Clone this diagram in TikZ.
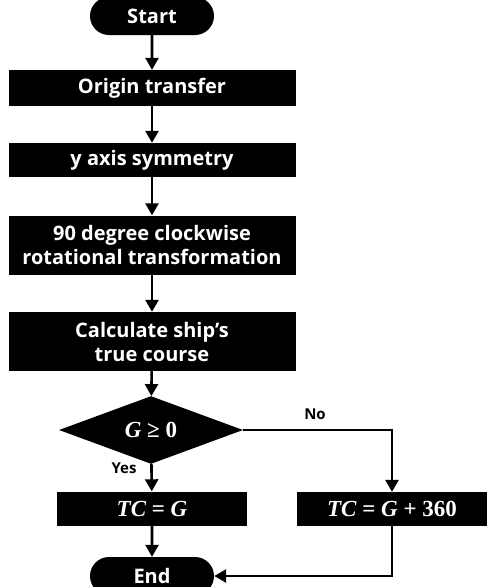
\documentclass[tikz,border=0pt]{standalone}
\usepackage{fontspec}
\setmainfont{Open Sans}
\newfontfamily\formulafont{Liberation Serif}
\newcommand{\var}[1]{{\itshape #1}}
\usetikzlibrary{shapes.geometric,shapes.misc,arrows.meta}
\begin{document}
\begin{tikzpicture}[x=1pt,y=-1pt]
    \tikzset{
        stepbox/.style={fill=black, text=white, font=\bfseries\fontsize{20}{24}\selectfont, align=center, inner sep=0pt, minimum width=287pt},
        terminal/.style={rounded rectangle, fill=black, text=white, font=\bfseries\fontsize{20}{24}\selectfont, inner sep=0pt, minimum width=124pt, minimum height=38pt},
        decision/.style={diamond, fill=black, text=white, font=\formulafont\bfseries\fontsize{23}{26}\selectfont, inner sep=0pt, minimum width=184pt, minimum height=44pt},
        resultbox/.style={fill=black, text=white, font=\formulafont\bfseries\fontsize{23}{26}\selectfont, inner sep=0pt, minimum width=190pt, minimum height=34pt},
        answer/.style={font=\bfseries\fontsize{15}{18}\selectfont},
        arc/.style={-{Triangle[length=12pt,width=13pt]}, line width=2.6pt}
    }
    \useasboundingbox (0,0) rectangle (488,587);

    \draw node[terminal] (start) at (152,16) {Start};
    \draw node[stepbox, minimum height=36pt] (origin) at (152,88) {Origin transfer};
    \draw node[stepbox, minimum height=34pt] (yaxis) at (152,160) {y axis symmetry};
    \draw node[stepbox, minimum height=59pt] (rotate) at (152,245) {90 degree clockwise\\rotational transformation};
    \draw node[stepbox, minimum height=59pt] (course) at (152,341.5) {Calculate ship's\\true course};
    \draw node[decision] (cond) at (151,430) {\var{G} ≥ 0};
    \draw node[resultbox] (tcg) at (152,508.5) {\var{TC} = \var{G}};
    \draw node[resultbox] (tcplus) at (392,509) {\var{TC} = \var{G} + 360};
    \draw node[terminal] (end) at (152,576) {End};
    \draw node[answer, anchor=east] (yes) at (140,468) {Yes};
    \draw node[answer] (no) at (315,414) {No};

    \foreach \x/\y in {%
        start/origin,origin/yaxis,yaxis/rotate,rotate/course,course/cond,cond/tcg,tcg/end%
    }{
        \draw (\x) edge[arc] (\y);
    }
    \draw[arc] (cond.east) -| (tcplus.north);
    \draw[arc] (tcplus.south) |- (end.east);
\end{tikzpicture}
\end{document}
